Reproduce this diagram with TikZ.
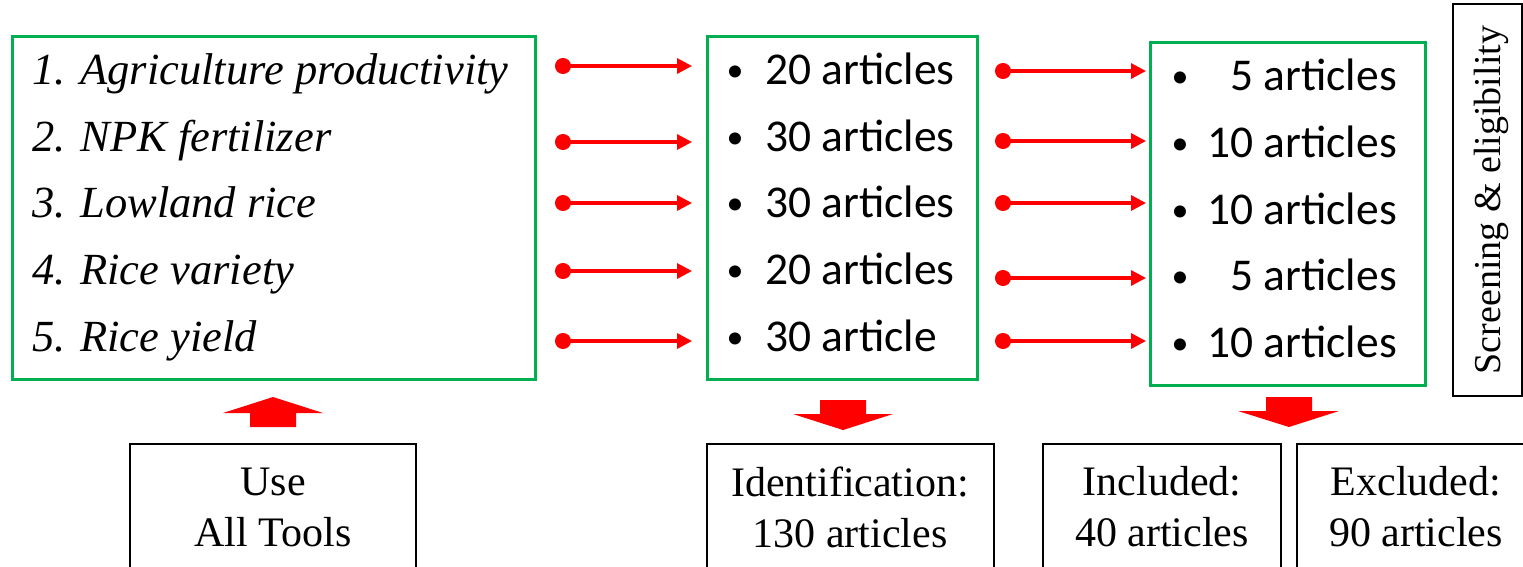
\documentclass[tikz,border=0pt]{standalone}
\usepackage{fontspec}
\setmainfont{Liberation Serif}
\newfontfamily\calib{Carlito}
\usetikzlibrary{arrows.meta}
\definecolor{pptgreen}{RGB}{0,176,80}
\tikzset{
  greenbox/.style={draw=pptgreen, line width=3pt},
  blackbox/.style={draw=black, line width=1.5pt},
  listitem/.style={anchor=base west, inner sep=0pt, font=\fontsize{44.5}{52}\selectfont\itshape},
  artitem/.style={inner sep=0pt, font=\calib\fontsize{45.5}{52}\selectfont},
  bulletitem/.style={inner sep=0pt, font=\calib\fontsize{34}{40}\selectfont},
  redarrow/.style={draw=red, line width=3.2pt, {Circle[length=16pt,width=16pt]}-{Triangle[length=15pt,width=15pt]}},
  blockarrow/.style={fill=red, draw=none},
  bottomtext/.style={align=center, font=\fontsize{42}{51}\selectfont, inner sep=0pt}
}
\begin{document}
\begin{tikzpicture}[x=1pt,y=-1pt]
\useasboundingbox (0,0) rectangle (1523,566);
\clip (0,0) rectangle (1523,566);
% green boxes
\draw[greenbox] (12,36) rectangle (535,379);
\draw[greenbox] (707,36) rectangle (977,379);
\draw[greenbox] (1150,42) rectangle (1425,385);
% screening box
\draw[blackbox] (1453,4) rectangle (1522,396);
\node[rotate=90, font=\fontsize{38}{44}\selectfont, inner sep=0pt] (scr) at (1491,200) {Screening \& eligibility};
% left list
\node[listitem] (l1) at (32,84) {1. Agriculture productivity};
\node[listitem] (l2) at (32,151) {2. NPK fertilizer};
\node[listitem] (l3) at (32,217) {3. Lowland rice};
\node[listitem] (l4) at (32,284) {4. Rice variety};
\node[listitem] (l5) at (32,351) {5. Rice yield};
% middle list
\foreach \n/\y/\t in {1/84/20 articles,2/151/30 articles,3/217/30 articles,4/284/20 articles,5/351/30 article}{
  \node[bulletitem, anchor=base] (mb\n) at (735,\y-3) {•};
  \node[artitem, anchor=base west] (m\n) at (765,\y) {\t};
}
% right list
\foreach \n/\y/\t in {1/90/5 articles,2/157/10 articles,3/224/10 articles,4/290/5 articles,5/357/10 articles}{
  \node[bulletitem, anchor=base] (rb\n) at (1180,\y-3) {•};
  \node[artitem, anchor=base east] (r\n) at (1397,\y) {\t};
}
% arrows col 1
\foreach \n/\y in {1/66,2/142,3/203,4/271,5/341}{
  \coordinate (a\n s) at (555,\y);
  \coordinate (a\n e) at (692,\y);
  \draw[redarrow] (a\n s) -- (a\n e);
}
% arrows col 2
\foreach \n/\y in {1/71,2/141,3/203,4/278,5/341}{
  \coordinate (b\n s) at (995,\y);
  \coordinate (b\n e) at (1146,\y);
  \draw[redarrow] (b\n s) -- (b\n e);
}
% block arrows
\fill[blockarrow] (250,427) -- (250,413) -- (223,413) -- (273,397) -- (323,413) -- (296,413) -- (296,427) -- cycle;
\fill[blockarrow] (820,400) -- (866,400) -- (866,414) -- (893,414) -- (843,430) -- (793,414) -- (820,414) -- cycle;
\fill[blockarrow] (1266,397) -- (1312,397) -- (1312,411) -- (1339,411) -- (1289,427) -- (1238,411) -- (1266,411) -- cycle;
% bottom boxes
\draw[blackbox] (130,444) rectangle (416,580);
\node[bottomtext] (use) at (273,507) {Use\\All Tools};
\draw[blackbox] (707,444) rectangle (994,580);
\node[bottomtext] (ident) at (850,507) {Identification:\\130 articles};
\draw[blackbox] (1043,444) rectangle (1281,580);
\node[bottomtext] (incl) at (1162,507) {Included:\\40 articles};
\draw[blackbox] (1297,444) rectangle (1530,580);
\node[bottomtext] (excl) at (1416,507) {Excluded:\\90 articles};
\end{tikzpicture}
\end{document}
